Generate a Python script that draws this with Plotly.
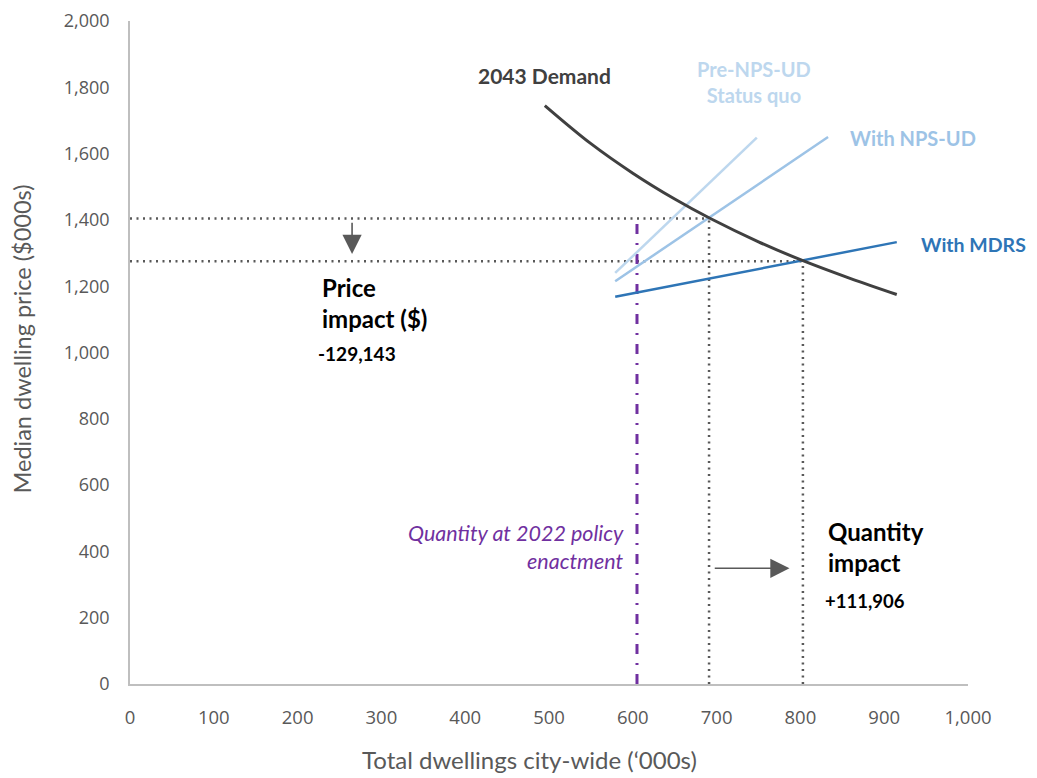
import plotly.graph_objects as go

# ---- data ----
demand_x = [495, 550, 600, 650, 692, 750, 803, 860, 915]
demand_y = [1745, 1630, 1541, 1463, 1405, 1334, 1277, 1223, 1175]

pre_x = [579, 748]
pre_y = [1240, 1648]

nps_x = [579, 833]
nps_y = [1215, 1650]

mdrs_x = [579, 915]
mdrs_y = [1168, 1333]

# equilibrium / reference values
q_policy = 605          # quantity at 2022 policy enactment
q_nps, p_nps = 691, 1404
q_mdrs, p_mdrs = 803, 1275

x_ticks = [0, 100, 200, 300, 400, 500, 600, 700, 800, 900, 1000]
y_ticks = [0, 200, 400, 600, 800, 1000, 1200, 1400, 1600, 1800, 2000]

x_title = "Total dwellings city-wide (‘000s)"
y_title = "Median dwelling price ($000s)"

C_DEM = "#404040"
C_PRE = "#BDD7EE"
C_NPS = "#9DC3E6"
C_MDRS = "#2E75B6"
C_PURPLE = "#7030A0"
C_DOT = "#595959"
C_AX = "#BFBFBF"
C_TICK = "#595959"

fig = go.Figure()

# dotted guide lines
dot = dict(color=C_DOT, width=2.5, dash="2px,4.5px")
fig.add_trace(go.Scatter(x=[0, q_nps], y=[p_nps, p_nps], mode="lines", line=dot, hoverinfo="skip"))
fig.add_trace(go.Scatter(x=[0, q_mdrs], y=[p_mdrs, p_mdrs], mode="lines", line=dot, hoverinfo="skip"))
fig.add_trace(go.Scatter(x=[q_nps, q_nps], y=[0, p_nps], mode="lines", line=dot, hoverinfo="skip"))
fig.add_trace(go.Scatter(x=[q_mdrs, q_mdrs], y=[0, p_mdrs], mode="lines", line=dot, hoverinfo="skip"))

# policy quantity line
fig.add_trace(go.Scatter(x=[q_policy, q_policy], y=[0, p_nps], mode="lines",
                         line=dict(color=C_PURPLE, width=3, dash="10px,9px,2px,9px"), hoverinfo="skip"))

# supply curves
fig.add_trace(go.Scatter(x=pre_x, y=pre_y, mode="lines", line=dict(color=C_PRE, width=2.5)))
fig.add_trace(go.Scatter(x=nps_x, y=nps_y, mode="lines", line=dict(color=C_NPS, width=2.5)))
fig.add_trace(go.Scatter(x=mdrs_x, y=mdrs_y, mode="lines", line=dict(color=C_MDRS, width=2.5)))

# demand curve
fig.add_trace(go.Scatter(x=demand_x, y=demand_y, mode="lines", line=dict(color=C_DEM, width=3, shape="spline")))

FONT = "Lato"
ann = []
ann.append(dict(x=495, y=1835, text="<b>2043 Demand</b>", showarrow=False,
                font=dict(family=FONT, size=21, color=C_DEM), xanchor="center", yanchor="middle"))
ann.append(dict(x=745, y=1815, text="<b>Pre-NPS-UD<br>Status quo</b>", showarrow=False,
                font=dict(family=FONT, size=20, color=C_PRE), xanchor="center", yanchor="middle"))
ann.append(dict(x=857, y=1647, text="<b>With NPS-UD</b>", showarrow=False,
                font=dict(family=FONT, size=20, color=C_NPS), xanchor="left", yanchor="middle"))
ann.append(dict(x=942, y=1327, text="<b>With MDRS</b>", showarrow=False,
                font=dict(family=FONT, size=19.5, color=C_MDRS), xanchor="left", yanchor="middle"))
ann.append(dict(x=227, y=1150, text="<b>Price<br>impact ($)</b>", showarrow=False, align="left",
                font=dict(family=FONT, size=24, color="#000000"), xanchor="left", yanchor="middle"))
ann.append(dict(x=222, y=998, text="<b>-129,143</b>", showarrow=False, align="left",
                font=dict(family=FONT, size=19, color="#000000"), xanchor="left", yanchor="middle"))
ann.append(dict(x=830, y=414, text="<b>Quantity<br>impact</b>", showarrow=False, align="left",
                font=dict(family=FONT, size=24, color="#000000"), xanchor="left", yanchor="middle"))
ann.append(dict(x=827, y=249, text="<b>+111,906</b>", showarrow=False, align="left",
                font=dict(family=FONT, size=18.5, color="#000000"), xanchor="left", yanchor="middle"))
ann.append(dict(x=592, y=412, text="<i>Quantity at 2022 policy<br>enactment</i>", showarrow=False, align="right",
                font=dict(family=FONT, size=21.5, color=C_PURPLE), xanchor="right", yanchor="middle"))

# arrows
ann.append(dict(x=265, y=1297, ax=265, ay=1396, xref="x", yref="y", axref="x", ayref="y",
                text="", showarrow=True, arrowhead=2, arrowsize=2.4, arrowwidth=1.6, arrowcolor=C_DOT))
ann.append(dict(x=787, y=349, ax=696, ay=349, xref="x", yref="y", axref="x", ayref="y",
                text="", showarrow=True, arrowhead=2, arrowsize=2.4, arrowwidth=1.6, arrowcolor=C_DOT))

# axis titles (placed as paper annotations to match the reference offsets)
ann.append(dict(x=0.477, y=-0.114, xref="paper", yref="paper", text=x_title, showarrow=False,
                font=dict(family=FONT, size=24, color=C_TICK), xanchor="center", yanchor="middle"))
ann.append(dict(x=-0.129, y=0.521, xref="paper", yref="paper", text=y_title, showarrow=False, textangle=-90,
                font=dict(family=FONT, size=23.5, color=C_TICK), xanchor="center", yanchor="middle"))

fig.update_layout(
    width=1037, height=778,
    margin=dict(l=122, r=77, t=13, b=102, autoexpand=False),
    paper_bgcolor="white", plot_bgcolor="white",
    showlegend=False,
    annotations=ann,
    font=dict(family="Open Sans", color=C_TICK),
)
fig.update_xaxes(range=[0, 1000], tickvals=x_ticks, ticktext=[f"{v:,}" for v in x_ticks],
                 showgrid=False, zeroline=False, showline=True, linecolor=C_AX, linewidth=1.5,
                 ticks="", ticklabelstandoff=16, ticklabeloverflow="allow", automargin=False,
                 tickfont=dict(family="Open Sans", size=18.5, color=C_TICK))
fig.update_yaxes(range=[0, 2000], tickvals=y_ticks, ticktext=[f"{v:,}" for v in y_ticks],
                 showgrid=False, zeroline=False, showline=True, linecolor=C_AX, linewidth=1.5,
                 ticks="", ticklabelstandoff=15, ticklabeloverflow="allow", automargin=False,
                 tickfont=dict(family="Open Sans", size=18, color=C_TICK))

fig.write_html("out.html")
